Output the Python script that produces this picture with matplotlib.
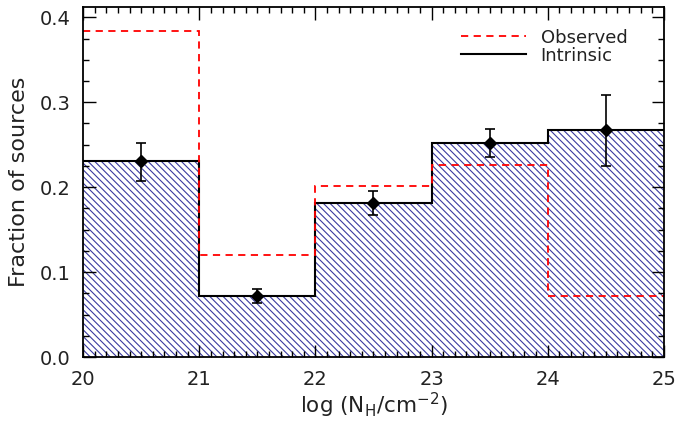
import numpy as np
import matplotlib
matplotlib.use("Agg")
import matplotlib.pyplot as plt
from matplotlib.ticker import MultipleLocator, FormatStrFormatter
from matplotlib.lines import Line2D

# bin edges in log(N_H / cm^-2)
bin_edges = [20, 21, 22, 23, 24, 25]
bin_centres = [20.5, 21.5, 22.5, 23.5, 24.5]

intrinsic = [0.231, 0.072, 0.181, 0.252, 0.267]
intrinsic_lo = [0.207, 0.064, 0.167, 0.235, 0.225]
intrinsic_hi = [0.252, 0.080, 0.195, 0.269, 0.309]
observed = [0.384, 0.120, 0.201, 0.226, 0.072]

plt.rcParams["hatch.color"] = "#3a3aa0"
plt.rcParams["hatch.linewidth"] = 0.8

fig = plt.figure(figsize=(6.76, 4.21), dpi=100)
ax = fig.add_axes([0.123, 0.152, 0.859, 0.831])

# intrinsic histogram, hatched
ax.stairs(intrinsic, bin_edges, fill=True, facecolor="none",
          edgecolor="#3a3aa0", hatch="\\\\\\\\\\", linewidth=0)
ax.stairs(intrinsic, bin_edges, color="black", linewidth=1.5, baseline=None)
ax.stairs(observed, bin_edges, color="red", linestyle=(0, (4, 3)),
          linewidth=1.3, baseline=None)

yerr = [np.array(intrinsic) - np.array(intrinsic_lo),
        np.array(intrinsic_hi) - np.array(intrinsic)]
ax.errorbar(bin_centres, intrinsic, yerr=yerr, fmt="D", color="black",
            markersize=6, capsize=3.5, elinewidth=1.2, capthick=1.2)

ax.set_xlim(20, 25)
ax.set_ylim(0, 0.412)
ax.xaxis.set_major_locator(MultipleLocator(1))
ax.xaxis.set_minor_locator(MultipleLocator(0.1))
ax.yaxis.set_major_locator(MultipleLocator(0.1))
ax.yaxis.set_minor_locator(MultipleLocator(0.025))
ax.yaxis.set_major_formatter(FormatStrFormatter("%.1f"))
ax.tick_params(which="both", direction="in", top=True, right=True,
               labelsize=14, width=1.0, colors="black", labelcolor="#222222")
ax.tick_params(which="major", length=9, pad=9)
ax.tick_params(which="minor", length=4.5)
for s in ax.spines.values():
    s.set_linewidth(1.3)

ax.set_xlabel(r"log (N$_{\rm H}$/cm$^{-2}$)", fontsize=15.5, labelpad=2,
              color="#222222")
ax.set_ylabel("Fraction of sources", fontsize=16, labelpad=8,
              color="#222222")

leg_handles = [Line2D([], [], color="red", linestyle=(0, (4, 3)), linewidth=1.3),
               Line2D([], [], color="black", linewidth=1.5)]
leg = ax.legend(leg_handles, ["Observed", "Intrinsic"], loc="upper right",
                bbox_to_anchor=(0.965, 0.985), frameon=False, fontsize=13,
                handlelength=3.6, labelspacing=0.0, handletextpad=0.8)
for t in leg.get_texts():
    t.set_color("#222222")

fig.savefig("out.png", dpi=100)
